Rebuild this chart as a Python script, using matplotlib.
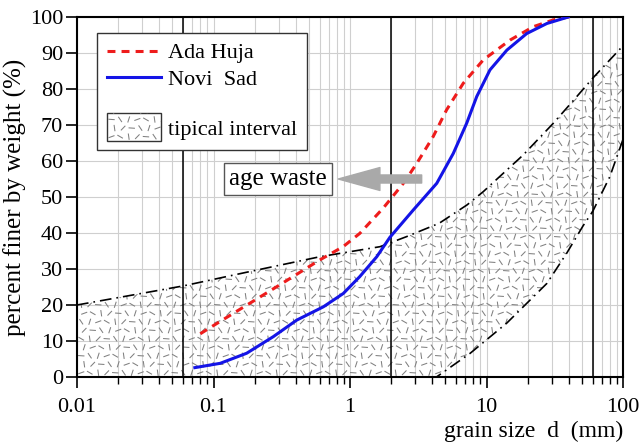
import numpy as np
import matplotlib.pyplot as plt
from matplotlib.collections import LineCollection
from matplotlib.legend_handler import HandlerBase
from matplotlib.patches import Rectangle, Patch
from matplotlib.lines import Line2D
from matplotlib.ticker import FuncFormatter, NullFormatter, LogLocator

plt.rcParams['font.family'] = 'Liberation Serif'

# grain size distribution
ada_d = [0.08, 0.1, 0.2, 0.3, 0.6, 0.89, 1.18, 1.75, 2.46, 3.08, 4.07, 5.1, 6.76, 9.48, 14.9, 22, 30.9, 40]
ada_p = [12, 14.3, 21.3, 25.4, 32.5, 36.2, 39.9, 46.9, 53.8, 59.3, 66.8, 74.2, 81.6, 88.1, 93.6, 97.3, 99.2, 100]

ns_d = [0.073, 0.112, 0.175, 0.274, 0.407, 0.638, 0.893, 1.18, 1.57, 1.96, 2.91, 4.32, 5.71, 7.16,
        8.48, 10.6, 14.1, 19.7, 27.7, 39.7]
ns_p = [2.6, 3.8, 6.6, 11.2, 15.8, 19.5, 23.2, 27.9, 33.4, 38.8, 46.4, 53.8, 62.1, 70.5,
        77.9, 85.3, 90.8, 95.4, 98.2, 100]

# typical interval (upper and lower bound)
up_d = [0.01, 0.06, 0.185, 0.6, 1.66, 2.6, 4.5, 7.2, 9.48, 18.6, 30.9, 43.5, 60, 100]
up_p = [20, 25.3, 29.3, 33.4, 36.2, 39, 42.7, 47.8, 51.5, 61.7, 70.5, 76.9, 83, 92]
lo_d = [100, 80, 60, 51, 38.7, 27.7, 14.1, 7.6, 4.3, 0.01]
lo_p = [66, 55.6, 46, 42, 34.4, 26, 15, 6.6, 0, 0]

# fraction limits (mm)
sieve_lines = [0.06, 2, 60]

fig = plt.figure(figsize=(6.41, 4.43), dpi=100)
ax = fig.add_axes([77/641, 1-377/443, 546/641, 360/443])
ax.set_xscale('log')
ax.set_xlim(0.01, 100)
ax.set_ylim(0, 100)


def texture(x0, y0, w, h, step, half):
    # short dashes in changing directions
    nx = int(w/step) + 1
    ny = int(h/step) + 1
    i, j = np.meshgrid(np.arange(nx), np.arange(ny))
    ang = np.deg2rad(((i*5 + j*3) % 7) * 26 + 20)
    cx = x0 + (i + 0.5 + 0.35*(j % 2))*step
    cy = y0 + (j + 0.5)*step
    dx = half*np.cos(ang)
    dy = half*np.sin(ang)
    segs = np.stack([np.stack([cx-dx, cy-dy], -1), np.stack([cx+dx, cy+dy], -1)], -2)
    return segs.reshape(-1, 2, 2)


# band
band = ax.fill(up_d + lo_d, up_p + lo_p, facecolor='none', edgecolor='none', zorder=2)[0]
aw, ah = 546, 360
segs = texture(0, 0, aw, ah, 8.5, 3.2)
segs[..., 0] /= aw
segs[..., 1] /= ah
lc = LineCollection(segs, colors='#808080', linewidths=0.75, transform=ax.transAxes, zorder=2)
lc.set_clip_path(band)
ax.add_collection(lc)

ax.plot(up_d, up_p, color='black', lw=1.2, dashes=(7, 3, 1, 3), zorder=3)
ax.plot(lo_d[:-1], lo_p[:-1], color='black', lw=1.2, dashes=(7, 3, 1, 3), zorder=3)

for s in sieve_lines:
    ax.axvline(s, color='black', lw=1.1, zorder=3)

ax.plot(ada_d, ada_p, color='#ee1c1c', lw=2.2, dashes=(2.6, 2.0), zorder=4)
ax.plot(ns_d, ns_p, color='#1414e6', lw=2.2, zorder=4)

# grid
ax.set_axisbelow(True)
ax.xaxis.set_minor_locator(LogLocator(base=10, subs=np.arange(2, 10)))
ax.xaxis.set_minor_formatter(NullFormatter())
ax.xaxis.set_major_formatter(FuncFormatter(lambda v, p: f'{v:g}'))
ax.set_yticks(np.arange(0, 101, 10))
ax.grid(True, which='both', axis='x', color='#cfcfcf', lw=0.8)
ax.grid(True, which='major', axis='y', color='#cfcfcf', lw=0.8)

ax.tick_params(axis='x', which='major', direction='out', length=8, width=1.2, pad=7, labelsize=16)
ax.tick_params(axis='x', which='minor', direction='out', length=5, width=1.0)
ax.tick_params(axis='y', direction='out', length=8, width=1.2, pad=2, labelsize=16)
for sp in ax.spines.values():
    sp.set_linewidth(1.5)

ax.set_ylabel('percent finer by weight (%)', fontsize=18, labelpad=2)
ax.set_xlabel('grain size  d  (mm)', fontsize=17, loc='right', labelpad=3)

# age waste label and arrow
ax.text(0.297, 55.1, 'age waste', fontsize=18, ha='center', va='center', zorder=6,
        bbox=dict(boxstyle='square,pad=0.2', facecolor='white', edgecolor='#555555', lw=1))
ax.annotate('', xy=(0.82, 55), xytext=(3.35, 55), zorder=6,
            arrowprops=dict(arrowstyle='simple,head_width=1.65,head_length=3.0,tail_width=0.58',
                            color='#a9a9a9', mutation_scale=10, shrinkA=0, shrinkB=0))


class TextureHandler(HandlerBase):
    def create_artists(self, legend, orig_handle, xdescent, ydescent, width, height, fontsize, trans):
        extra = 4.5
        x0, y0 = -xdescent, -ydescent - extra
        h = height + 2*extra
        rect = Rectangle((x0, y0), width, h, facecolor='white', edgecolor='#333333', lw=1.0, transform=trans)
        sg = texture(x0, y0, width, h, 6.2, 2.3)
        inner = LineCollection(sg, colors='#808080', linewidths=0.75, transform=trans)
        inner.set_clip_path(rect)
        return [rect, inner]


h_ada = Line2D([], [], color='#ee1c1c', lw=2.2, dashes=(2.6, 2.0))
h_ns = Line2D([], [], color='#1414e6', lw=2.2)
h_blank = Line2D([], [], color='none')
h_band = Patch()
leg = ax.legend([h_ada, h_ns, h_blank, h_band], ['Ada Huja', 'Novi  Sad', ' ', 'tipical interval'],
                handler_map={Patch: TextureHandler()},
                loc='upper left', bbox_to_anchor=(0.037, 0.956), borderaxespad=0,
                fontsize=16, handlelength=2.4, handletextpad=0.35, labelspacing=0.25,
                borderpad=0.45, fancybox=False, framealpha=1, edgecolor='#333333')
leg.get_texts()[2].set_fontsize(11)
leg.get_frame().set_linewidth(1.0)
leg.set_zorder(7)

plt.savefig('out.png', dpi=100)
